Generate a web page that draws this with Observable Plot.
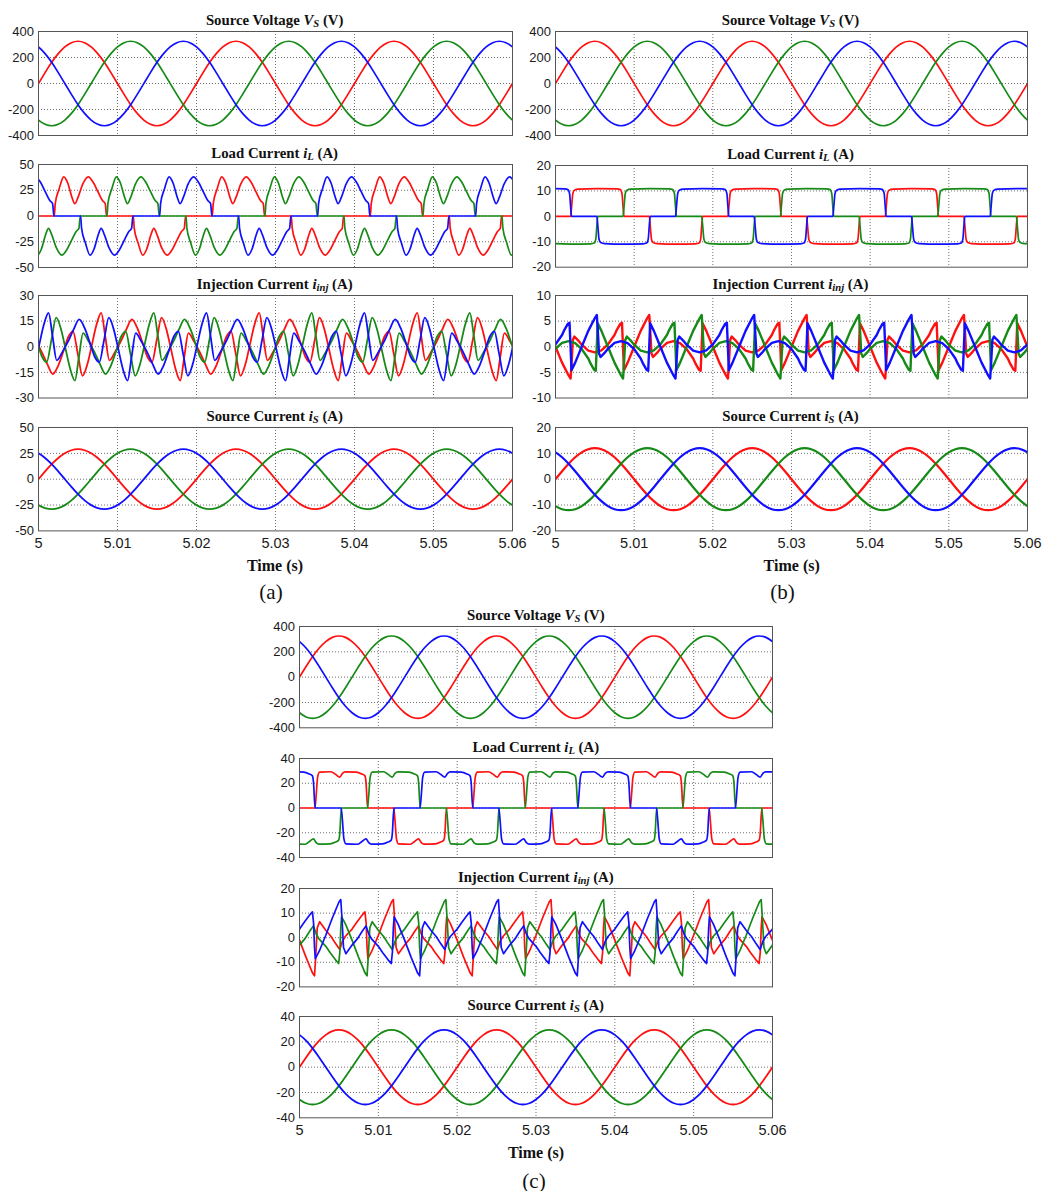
<!DOCTYPE html>
<html><head><meta charset="utf-8">
<script src="https://cdn.jsdelivr.net/npm/d3@7"></script>
<script src="https://cdn.jsdelivr.net/npm/@observablehq/plot@0.6"></script>
<style>
html,body{margin:0;padding:0;background:#fff}
#fig{position:relative;width:1042px;height:1191px;overflow:hidden;background:#fff}
.ttl{position:absolute;transform:translate(-50%,-50%);font-family:"Liberation Serif","Times New Roman",serif;font-weight:bold;font-size:14.8px;line-height:1;white-space:nowrap;color:#111}
.ttl sub{font-size:0.72em;line-height:0;vertical-align:-0.2em}
.xl{position:absolute;transform:translate(-50%,-50%);font-family:"Liberation Serif","Times New Roman",serif;font-weight:bold;font-size:16px;line-height:1;white-space:nowrap;color:#111}
.pl{position:absolute;transform:translate(-50%,-50%);font-family:"Liberation Serif","Times New Roman",serif;font-size:21px;line-height:1;white-space:nowrap;color:#111}
</style></head>
<body><div id="fig"></div>
<script>
// ================= DATA (time in ms after t = 5 s; one 20 ms period of phase "red") =================
const X_TICKS = [0, 10, 20, 30, 40, 50, 60];
const PERIOD = 20;                       // 50 Hz
const PHASE_SHIFT = [0, 20 / 3, -20 / 3]; // red, green (lags 120°), blue (leads 120°)

// sinusoidal quantities, sampled every 15°
const SINE_T = [0, 0.833, 1.667, 2.5, 3.333, 4.167, 5, 5.833, 6.667, 7.5, 8.333, 9.167, 10, 10.833, 11.667, 12.5, 13.333, 14.167, 15, 15.833, 16.667, 17.5, 18.333, 19.167];
const VS = [0, 84, 163, 230, 281, 314, 325, 314, 281, 230, 163, 84, 0, -84, -163, -230, -281, -314, -325, -314, -281, -230, -163, -84];
const IS_A = [0, 7.5, 14.5, 20.5, 25.1, 28, 29, 28, 25.1, 20.5, 14.5, 7.5, 0, -7.5, -14.5, -20.5, -25.1, -28, -29, -28, -25.1, -20.5, -14.5, -7.5];
const IS_B = [0, 3.1, 6, 8.5, 10.4, 11.6, 12, 11.6, 10.4, 8.5, 6, 3.1, 0, -3.1, -6, -8.5, -10.4, -11.6, -12, -11.6, -10.4, -8.5, -6, -3.1];
const IS_C = [0, 7.6, 14.8, 20.9, 25.5, 28.5, 29.5, 28.5, 25.5, 20.9, 14.8, 7.6, 0, -7.6, -14.8, -20.9, -25.5, -28.5, -29.5, -28.5, -25.5, -20.9, -14.8, -7.6];

// (a) load current
const IL_A_T = [0, 2.0, 2.12, 2.6, 3.2, 3.7, 4.2, 4.6, 5.0, 5.6, 6.3, 6.9, 7.5, 8.1, 8.45, 8.62, 12.0, 12.12, 12.6, 13.2, 13.7, 14.2, 14.6, 15.0, 15.6, 16.3, 16.9, 17.5, 18.1, 18.45, 18.62];
const IL_A_V = [0, 0, 12, 26, 38, 32, 19, 12, 18, 31, 38, 33, 24, 15, 12, 0, 0, -12, -26, -38, -32, -19, -12, -18, -31, -38, -33, -24, -15, -12, 0];
// (a) injection current
const INJ_A_T = [0.4, 1.1, 1.82, 2.5, 3.2, 3.8, 4.37, 4.97, 5.57, 6.2, 6.75, 7.35, 7.94, 8.45, 8.97, 9.7, 10.4, 11.1, 11.82, 12.5, 13.2, 13.8, 14.37, 14.97, 15.57, 16.2, 16.75, 17.35, 17.94, 18.45, 18.97, 19.7];
const INJ_A_V = [-3, -10, -16, -11, -2, 6, 9, -4, -17, -10, 1, 13, 19.8, 6, -8, -3, 3, 10, 16, 11, 2, -6, -9, 4, 17, 10, -1, -13, -19.8, -6, 8, 3];

// (b) load current
const IL_B_T = [0, 1.92, 2.05, 2.2, 2.4, 2.9, 5.3, 7.8, 8.25, 8.45, 8.58, 8.7, 11.92, 12.05, 12.2, 12.4, 12.9, 15.3, 17.8, 18.25, 18.45, 18.58, 18.7];
const IL_B_V = [0, 0, 4, 9, 10.3, 10.7, 10.9, 10.8, 10.5, 9, 4, 0, 0, -4, -9, -10.3, -10.7, -10.9, -10.8, -10.5, -9, -4, 0];
// (b) injection current
const INJ_B_T = [0, 0.83, 1.67, 1.92, 2.05, 2.2, 2.4, 2.9, 3.33, 4.17, 5.0, 5.83, 6.67, 7.5, 7.8, 8.25, 8.45, 8.58, 8.7, 9.17, 10, 10.83, 11.67, 11.92, 12.05, 12.2, 12.4, 12.9, 13.33, 14.17, 15, 15.83, 16.67, 17.5, 17.8, 18.25, 18.45, 18.58, 18.7, 19.17];
const INJ_B_V = [0, -3.1, -5.6, -6.2, -3.0, 1.3, 2.0, 1.2, 0.4, -0.75, -1.1, -0.7, 0.45, 2.3, 3.3, 4.5, 4.7, 0, -4.6, -3.1, 0, 3.1, 5.6, 6.2, 3.0, -1.3, -2.0, -1.2, -0.4, 0.75, 1.1, 0.7, -0.45, -2.3, -3.3, -4.5, -4.7, 0, 4.6, 3.1];

// (c) load current
const IL_C_T = [0, 1.95, 2.1, 2.3, 2.55, 4.0, 4.6, 5.1, 5.45, 5.8, 7.2, 7.9, 8.3, 8.45, 8.57, 8.67, 11.95, 12.1, 12.3, 12.55, 14.0, 14.6, 15.1, 15.45, 15.8, 17.2, 17.9, 18.3, 18.45, 18.57, 18.67];
const IL_C_V = [0, 0, 9, 25, 29, 29.3, 27, 25, 28, 29.2, 29, 27.5, 26, 20, 6, 0, 0, -9, -25, -29, -29.3, -27, -25, -28, -29.2, -29, -27.5, -26, -20, -6, 0];
// (c) injection current
const INJ_C_T = [0, 0.83, 1.67, 1.9, 2.05, 2.25, 2.55, 3.33, 4.0, 4.6, 5.1, 5.45, 5.8, 6.67, 7.2, 7.9, 8.3, 8.45, 8.57, 8.67, 9.17, 10, 10.83, 11.67, 11.9, 12.05, 12.25, 12.55, 13.33, 14.0, 14.6, 15.1, 15.45, 15.8, 16.67, 17.2, 17.9, 18.3, 18.45, 18.57, 18.67, 19.17];
const INJ_C_V = [-1, -8, -14.5, -15.5, -8, 4, 6.5, 3, 0.5, -2.5, -4.8, -1.5, 0.5, 3.5, 6, 9, 10.5, 6, -4, -8.5, -5.5, 1, 8, 14.5, 15.5, 8, -4, -6.5, -3, -0.5, 2.5, 4.8, 1.5, -0.5, -3.5, -6, -9, -10.5, -6, 4, 8.5, 5.5];

const TITLES = [
  'Source Voltage <i>V<sub>S</sub></i> (V)',
  'Load Current <i>i<sub>L</sub></i> (A)',
  'Injection Current <i>i<sub>inj</sub></i> (A)',
  'Source Current <i>i<sub>S</sub></i> (A)'
];
const Y_TICKS = {
  a: [[-400, -200, 0, 200, 400], [-50, -25, 0, 25, 50], [-30, -15, 0, 15, 30], [-50, -25, 0, 25, 50]],
  b: [[-400, -200, 0, 200, 400], [-20, -10, 0, 10, 20], [-10, -5, 0, 5, 10], [-20, -10, 0, 10, 20]],
  c: [[-400, -200, 0, 200, 400], [-40, -20, 0, 20, 40], [-20, -10, 0, 10, 20], [-40, -20, 0, 20, 40]]
};
const PANEL_LABELS = {a: "(a)", b: "(b)", c: "(c)"};

// ================= LAYOUT / STYLE =================
const COLORS = ["#ff1010", "#168a16", "#1010ff"];
const LAYOUT = {
  a: {x0: 37.7, x1: 511.7, rows: [[31, 135], [164, 267], [295, 397.5], [427.3, 530.7]], xl: [275, 566], pl: [271, 592]},
  b: {x0: 554.5, x1: 1026.5, rows: [[31, 135], [165, 266.7], [295, 397.5], [427.3, 530.7]], xl: [791.7, 566], pl: [782.5, 592]},
  c: {x0: 299.3, x1: 772.3, rows: [[626, 727.3], [757.7, 856.7], [888.3, 986.7], [1016, 1117.3]], xl: [536, 1153], pl: [534, 1181]}
};
const SERIES = {
  a: [[SINE_T, VS, "natural", 1.7], [IL_A_T, IL_A_V, "monotone-x", 1.7], [INJ_A_T, INJ_A_V, "monotone-x", 1.8], [SINE_T, IS_A, "natural", 1.8]],
  b: [[SINE_T, VS, "natural", 1.7], [IL_B_T, IL_B_V, "monotone-x", 1.7], [INJ_B_T, INJ_B_V, "linear", 2.4], [SINE_T, IS_B, "natural", 2.2]],
  c: [[SINE_T, VS, "natural", 1.7], [IL_C_T, IL_C_V, "monotone-x", 1.7], [INJ_C_T, INJ_C_V, "linear", 1.7], [SINE_T, IS_C, "natural", 1.8]]
};

const fig = document.getElementById("fig");

// one-period table repeated over the 60 ms window for a given phase
function periodicTable(T, V, shift) {
  const rows = [];
  for (let k = -1; k <= 3; k++) T.forEach((t, i) => rows.push({t: t + shift + PERIOD * k, v: V[i]}));
  return rows;
}
const fmtX = d => d === 0 ? "5" : d3.format(".2f")(5 + d / 1000);

function addText(cls, html, x, y) {
  const d = document.createElement("div");
  d.className = cls; d.innerHTML = html;
  d.style.left = x + "px"; d.style.top = y + "px";
  fig.appendChild(d);
}

function panel(col, r) {
  const L = LAYOUT[col];
  const [T, V, curve, sw] = SERIES[col][r];
  const ticks = Y_TICKS[col][r];
  const [y0, y1] = L.rows[r];
  const last = r === 3;
  const ML = 42, MR = 24, MT = 12, MB = last ? 34 : 12;
  const W = L.x1 - L.x0 + ML + MR, H = y1 - y0 + MT + MB;
  const grid = {stroke: "#333", strokeOpacity: 0.8, strokeWidth: 0.9, strokeDasharray: "1,2"};
  const marks = [
    Plot.gridX(X_TICKS.slice(1, -1), grid),
    Plot.gridY(ticks.slice(1, -1), grid),
    ...PHASE_SHIFT.map((sh, i) => Plot.line(periodicTable(T, V, sh), {x: "t", y: "v", stroke: COLORS[i], strokeWidth: sw, curve, clip: true})),
    Plot.frame({stroke: "#555", strokeWidth: 1}),
    Plot.axisY(ticks, {tickSize: 0, tickPadding: 4.5, tickFormat: d => String(d), fontSize: 13, label: null})
  ];
  if (last) marks.push(Plot.axisX(X_TICKS, {tickSize: 0, tickPadding: 7, tickFormat: fmtX, fontSize: 14.5, label: null}));
  const svg = Plot.plot({
    width: W, height: H, marginLeft: ML, marginRight: MR, marginTop: MT, marginBottom: MB,
    x: last ? {domain: [0, 60], label: null} : {domain: [0, 60], label: null, axis: null},
    y: {domain: [ticks[0], ticks[ticks.length - 1]], label: null},
    style: {background: "none", overflow: "visible", maxWidth: "none", color: "#1a1a1a",
            fontFamily: "'Liberation Sans', Arial, sans-serif", fontSize: "13px"},
    marks
  });
  svg.style.position = "absolute";
  svg.style.left = (L.x0 - ML) + "px";
  svg.style.top = (y0 - MT) + "px";
  fig.appendChild(svg);
  addText("ttl", TITLES[r], (L.x0 + L.x1) / 2, y0 - 11);
}

for (const col of ["a", "b", "c"]) {
  for (let r = 0; r < 4; r++) panel(col, r);
  addText("xl", "Time (s)", LAYOUT[col].xl[0], LAYOUT[col].xl[1]);
  addText("pl", PANEL_LABELS[col], LAYOUT[col].pl[0], LAYOUT[col].pl[1]);
}
</script></body></html>
